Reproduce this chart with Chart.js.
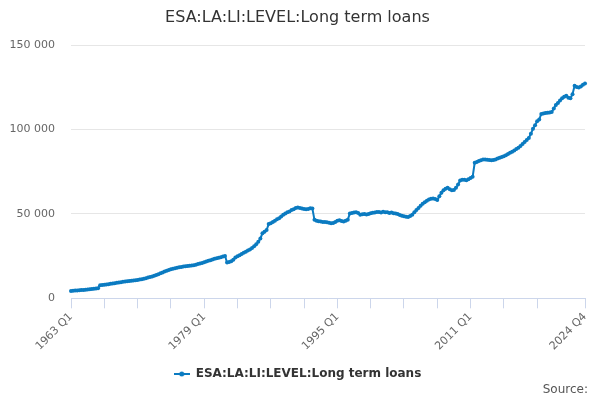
<!DOCTYPE html>
<html>
<head>
<meta charset="utf-8">
<script src="https://cdn.jsdelivr.net/npm/chart.js@4/dist/chart.umd.min.js"></script>
<style>
  html, body { margin: 0; padding: 0; background: #fff; }
  #wrap { width: 600px; height: 400px; }
</style>
</head>
<body>
<div id="wrap"><canvas id="lineChart"></canvas></div>
<script>
const firstYear = 1963;
const lastYear = 2024;
const quarterNames = ["Q1", "Q2", "Q3", "Q4"];
const tickLabels = ["1963 Q1", "1979 Q1", "1995 Q1", "2011 Q1", "2024 Q4"];
const seriesName = "ESA:LA:LI:LEVEL:Long term loans";
const sourceText = "Source:";

// one row per year, Q1..Q4
const loans = [
  4400, 4500, 4600, 4700,
  4800, 4900, 5000, 5100,
  5200, 5350, 5500, 5650,
  5800, 6000, 7700, 7900,
  8000, 8200, 8400, 8600,
  8800, 9000, 9200, 9400,
  9600, 9800, 10000, 10100,
  10300, 10400, 10600, 10700,
  10900, 11100, 11300, 11600,
  11900, 12300, 12600, 13000,
  13400, 13800, 14300, 14800,
  15300, 15900, 16300, 16800,
  17200, 17500, 17800, 18100,
  18400, 18600, 18800, 19000,
  19200, 19300, 19400, 19600,
  19900, 20300, 20600, 21000,
  21400, 21800, 22200, 22600,
  23000, 23400, 23800, 24000,
  24400, 24800, 25100, 21200,
  21500, 22000, 22800, 24200,
  25000, 25600, 26300, 27000,
  27600, 28300, 29000, 29800,
  30800, 32000, 33500, 35500,
  38500, 39500, 40500, 44000,
  44500, 45200, 46000, 46800,
  47500, 48500, 49500, 50200,
  51000, 51500, 52300, 52800,
  53500, 53800, 53600, 53300,
  53000, 52800, 53000, 53400,
  53200, 46500, 46000, 45700,
  45500, 45300, 45200, 45100,
  44800, 44500, 44700, 45300,
  46000, 46300, 45800, 45500,
  46000, 46500, 50300, 50600,
  50800, 51000, 50500, 49600,
  49800, 50000, 49700, 50000,
  50400, 50700, 50900, 51100,
  51200, 50800, 51300, 51000,
  51000, 50600, 50900, 50400,
  50300, 49900, 49400, 49000,
  48700, 48300, 48200, 48800,
  49500, 51000, 52400, 53500,
  54800, 56000, 57000, 57800,
  58500, 59000, 59200, 58800,
  58200, 60500, 62500, 64000,
  65000, 65500, 64600, 64000,
  64200, 65500, 67500, 69800,
  70200, 70300, 70000, 70600,
  71300, 72000, 80300, 80800,
  81400, 81800, 82200, 82300,
  82100, 81900, 81800, 81900,
  82300, 82800, 83300, 83700,
  84200, 84800, 85500, 86200,
  86800, 87600, 88500, 89300,
  90200, 91500, 92700, 93800,
  95000, 97500, 100500, 102500,
  105000, 106000, 109300, 109500,
  109800, 110000, 110100, 110400,
  112500, 114500, 115800, 117200,
  118500, 119400, 120000, 118800,
  118600, 121000, 126000, 125300,
  125000, 125600, 126500, 127300
];

const quarterLabels = [];
for (let y = firstYear; y <= lastYear; y++) {
  quarterNames.forEach(function(q) { quarterLabels.push(y + " " + q); });
}

const lineColor = "#0b7bc1";
const fontFamily = "'DejaVu Sans', Verdana, Arial, sans-serif";

// legend symbol: short line with a dot, like the source chart
function legendSymbol() {
  const c = document.createElement("canvas");
  c.width = 16; c.height = 6;
  const g = c.getContext("2d");
  g.strokeStyle = lineColor;
  g.lineWidth = 2;
  g.beginPath(); g.moveTo(0, 3); g.lineTo(16, 3); g.stroke();
  g.fillStyle = lineColor;
  g.beginPath(); g.arc(8, 3, 2.5, 0, Math.PI * 2); g.fill();
  return c;
}

function spaced(v) {
  return String(v).replace(/\B(?=(\d{3})+(?!\d))/g, " ");
}

// "Source:" credit in the bottom right corner
const sourceCredit = {
  id: "sourceCredit",
  afterDraw: function(chart) {
    const c = chart.ctx;
    c.save();
    c.font = "12px " + fontFamily;
    c.fillStyle = "#555555";
    c.textAlign = "right";
    c.textBaseline = "middle";
    c.fillText(sourceText, chart.width - 12, chart.height - 10);
    c.restore();
  }
};

function drawLineChart() {
  const ctx = document.getElementById("lineChart").getContext("2d");
  const last = quarterLabels.length - 1;

  new Chart(ctx, {
    type: "line",
    data: {
      labels: quarterLabels,
      datasets: [
        {
          label: seriesName,
          data: loans,
          borderColor: lineColor,
          backgroundColor: lineColor,
          borderWidth: 2,
          pointRadius: 2,
          pointBorderWidth: 0,
          pointBackgroundColor: lineColor,
          tension: 0,
          fill: false
        }
      ]
    },
    plugins: [sourceCredit],
    options: {
      responsive: true,
      maintainAspectRatio: false,
      animation: false,
      layout: { padding: { left: 10, right: 15, top: 0, bottom: 10 } },
      plugins: {
        title: {
          display: true,
          text: seriesName,
          color: "#333333",
          font: { family: fontFamily, size: 16, weight: "normal" },
          padding: { top: 8, bottom: 18 }
        },
        legend: {
          position: "bottom",
          labels: {
            usePointStyle: true,
            pointStyle: legendSymbol(),
            pointStyleWidth: 16,
            color: "#333333",
            font: { family: fontFamily, size: 12, weight: "bold" },
            padding: 3
          }
        },
        tooltip: { enabled: false }
      },
      scales: {
        x: {
          type: "category",
          offset: false,
          grid: {
            drawOnChartArea: false,
            drawTicks: true,
            tickLength: 10,
            tickColor: "#ccd6eb"
          },
          border: { display: true, color: "#ccd6eb", width: 1 },
          ticks: {
            autoSkip: false,
            minRotation: 45,
            maxRotation: 45,
            padding: 2,
            color: "#666666",
            font: { family: fontFamily, size: 11 },
            callback: function(value, index) {
              const label = quarterLabels[index];
              if (tickLabels.includes(label)) return label;
              if (index % 16 === 0 && index + 16 <= last) return "";
              return null;
            }
          },
          // keep some room between the rotated labels and the legend
          afterFit: function(scale) {
            scale.height += 10;
          }
        },
        y: {
          min: 0,
          max: 150000,
          grid: { color: "#e6e6e6", drawTicks: false },
          border: { display: false },
          ticks: {
            stepSize: 50000,
            padding: 16,
            color: "#666666",
            font: { family: fontFamily, size: 11 },
            callback: function(v) { return spaced(v); }
          },
          afterFit: function(scale) {
            scale.width = 61;
          }
        }
      }
    }
  });
}

drawLineChart();
</script>
</body>
</html>
